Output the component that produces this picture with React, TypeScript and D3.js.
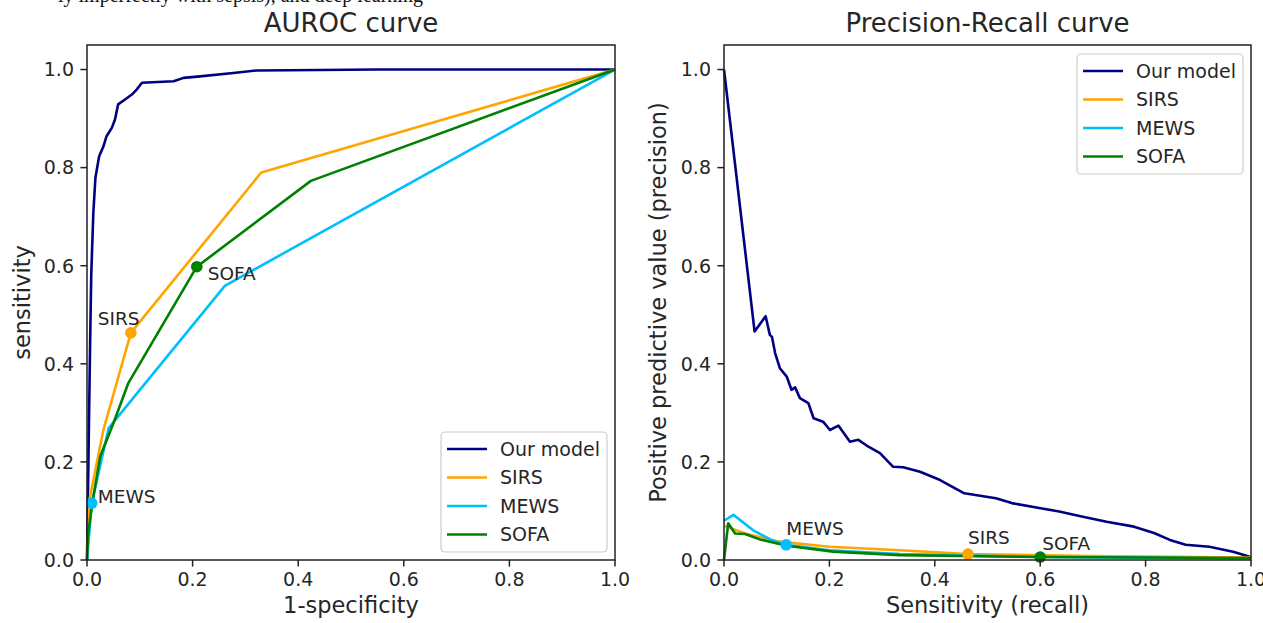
import React from 'react';
import * as d3 from 'd3';

type Pt = [number, number];

// ROC curves (x: 1-specificity, y: sensitivity)
const rocOurModel: Pt[] = [
  [0, 0], [0.002, 0.15], [0.004, 0.3], [0.006, 0.449], [0.008, 0.58], [0.012, 0.708],
  [0.016, 0.78], [0.023, 0.823], [0.031, 0.843], [0.037, 0.864], [0.047, 0.881],
  [0.053, 0.898], [0.059, 0.929], [0.072, 0.939], [0.085, 0.949], [0.094, 0.959],
  [0.104, 0.973], [0.164, 0.976], [0.183, 0.983], [0.214, 0.986], [0.277, 0.993],
  [0.321, 0.998], [0.441, 0.999], [0.55, 1.0], [1, 1],
];
const rocSirs: Pt[] = [[0, 0], [0.005, 0.125], [0.031, 0.265], [0.083, 0.463], [0.33, 0.79], [1, 1]];
const rocMews: Pt[] = [[0, 0], [0.009, 0.116], [0.041, 0.269], [0.261, 0.559], [1, 1]];
const rocSofa: Pt[] = [
  [0, 0], [0.002, 0.05], [0.009, 0.109], [0.025, 0.211], [0.05, 0.279], [0.078, 0.36],
  [0.208, 0.598], [0.424, 0.773], [1, 1],
];

// Precision-recall curves (x: recall, y: precision)
const prOurModel: Pt[] = [
  [0, 1.0], [0.058, 0.466], [0.079, 0.497], [0.087, 0.459], [0.091, 0.455], [0.097, 0.422],
  [0.106, 0.391], [0.119, 0.374], [0.128, 0.347], [0.135, 0.352], [0.144, 0.33], [0.16, 0.32],
  [0.17, 0.289], [0.188, 0.282], [0.201, 0.265], [0.217, 0.274], [0.239, 0.241], [0.255, 0.245],
  [0.274, 0.231], [0.296, 0.218], [0.321, 0.19], [0.34, 0.189], [0.372, 0.18], [0.41, 0.163],
  [0.456, 0.136], [0.516, 0.126], [0.546, 0.116], [0.598, 0.106], [0.636, 0.099], [0.681, 0.088],
  [0.726, 0.078], [0.778, 0.068], [0.816, 0.055], [0.846, 0.041], [0.876, 0.031], [0.921, 0.027],
  [0.966, 0.017], [0.996, 0.007], [1.0, 0.004],
];
const prSirs: Pt[] = [
  [0, 0.07], [0.04, 0.054], [0.1, 0.038], [0.2, 0.027], [0.334, 0.02], [0.463, 0.012],
  [0.7, 0.008], [1, 0.005],
];
const prMews: Pt[] = [
  [0, 0.08], [0.018, 0.092], [0.056, 0.06], [0.09, 0.041], [0.118, 0.031], [0.2, 0.02],
  [0.334, 0.012], [0.6, 0.006], [1, 0.003],
];
const prSofa: Pt[] = [
  [0, 0], [0.008, 0.075], [0.021, 0.054], [0.04, 0.053], [0.068, 0.042], [0.119, 0.029],
  [0.207, 0.017], [0.334, 0.01], [0.6, 0.006], [1, 0.004],
];

const seriesNames = ['Our model', 'SIRS', 'MEWS', 'SOFA'];
const colors = ['navy', 'orange', 'deepskyblue', 'green'];

// operating points (SIRS, MEWS, SOFA)
const rocMarkers: Pt[] = [[0.083, 0.463], [0.009, 0.116], [0.208, 0.598]];
const prMarkers: Pt[] = [[0.463, 0.012], [0.118, 0.031], [0.6, 0.006]];
const rocLabelOffsets: Pt[] = [[-33, -8], [6, 0], [11, 13]];
const prLabelOffsets: Pt[] = [[0, -10], [0, -10], [2, -7]];

const ticks = [0, 0.2, 0.4, 0.6, 0.8, 1.0];

const FONT = 'DejaVu Sans, sans-serif';
const TEXT = '#262626';

type PanelProps = {
  x0: number;
  x1: number;
  title: string;
  xLabel: string;
  yLabel: string;
  yLabelX: number;
  curves: Pt[][];
  markers: Pt[];
  offsets: Pt[];
  legend: 'lower right' | 'upper right';
};

function Panel({ x0, x1, title, xLabel, yLabel, yLabelX, curves, markers, offsets, legend }: PanelProps) {
  const top = 45;
  const bottom = 560;
  const x = d3.scaleLinear().domain([0, 1]).range([x0, x1]);
  const y = d3.scaleLinear().domain([0, 1.05]).range([bottom, top]);
  const line = d3.line<Pt>().x(d => x(d[0])).y(d => y(d[1]));
  const cx = (x0 + x1) / 2;

  const lw = 166;
  const lh = 120;
  const lx = x1 - 8 - lw;
  const ly = legend === 'lower right' ? bottom - 8 - lh : top + 9;

  return (
    <g>
      <text x={cx} y={32} textAnchor="middle" fontSize={26} fill={TEXT} fontFamily={FONT}>
        {title}
      </text>
      {curves.map((c, i) => (
        <path key={i} d={line(c) || ''} fill="none" stroke={colors[i]} strokeWidth={2.6} strokeLinejoin="round" />
      ))}
      {markers.map((m, i) => (
        <g key={i}>
          <circle cx={x(m[0])} cy={y(m[1])} r={5.8} fill={colors[i + 1]} />
          <text
            x={x(m[0]) + offsets[i][0]}
            y={y(m[1]) + offsets[i][1]}
            fontSize={18.5}
            fill={TEXT}
            fontFamily={FONT}
          >
            {seriesNames[i + 1]}
          </text>
        </g>
      ))}
      <rect x={x0} y={top} width={x1 - x0} height={bottom - top} fill="none" stroke="#222" strokeWidth={1.5} />
      {ticks.map(t => (
        <g key={'x' + t}>
          <line x1={x(t)} x2={x(t)} y1={bottom} y2={bottom + 6.6} stroke="#222" strokeWidth={1.5} />
          <text x={x(t)} y={586} textAnchor="middle" fontSize={19} fill={TEXT} fontFamily={FONT}>
            {t.toFixed(1)}
          </text>
        </g>
      ))}
      {ticks.map(t => (
        <g key={'y' + t}>
          <line x1={x0 - 6.6} x2={x0} y1={y(t)} y2={y(t)} stroke="#222" strokeWidth={1.5} />
          <text x={x0 - 13} y={y(t)} dy="0.36em" textAnchor="end" fontSize={19} fill={TEXT} fontFamily={FONT}>
            {t.toFixed(1)}
          </text>
        </g>
      ))}
      <text x={cx} y={613} textAnchor="middle" fontSize={22.5} fill={TEXT} fontFamily={FONT}>
        {xLabel}
      </text>
      <text
        transform={`translate(${yLabelX},${(top + bottom) / 2}) rotate(-90)`}
        textAnchor="middle"
        fontSize={22.5}
        fill={TEXT}
        fontFamily={FONT}
      >
        {yLabel}
      </text>
      <rect x={lx} y={ly} width={lw} height={lh} rx={4} fill="white" fillOpacity={0.8} stroke="#cccccc" strokeWidth={1.2} />
      {seriesNames.map((s, i) => {
        const ry = ly + 17 + i * 28.5;
        return (
          <g key={s}>
            <line x1={lx + 6} x2={lx + 46} y1={ry} y2={ry} stroke={colors[i]} strokeWidth={2.6} />
            <text x={lx + 59} y={ry} dy="0.36em" fontSize={19} fill={TEXT} fontFamily={FONT}>
              {s}
            </text>
          </g>
        );
      })}
    </g>
  );
}

export default function App() {
  return (
    <svg
      width={1263}
      height={623}
      style={{ position: 'absolute', left: 0, top: 0, background: 'white' }}
    >
      <text x={58} y={2} fontSize={20} fontFamily="Liberation Serif, serif" fill="#111">
        ly imperfectly with sepsis), and deep learning
      </text>
      <Panel
        x0={87}
        x1={615}
        title="AUROC curve"
        xLabel="1-specificity"
        yLabel="sensitivity"
        yLabelX={30}
        curves={[rocOurModel, rocSirs, rocMews, rocSofa]}
        markers={rocMarkers}
        offsets={rocLabelOffsets}
        legend="lower right"
      />
      <Panel
        x0={724}
        x1={1251}
        title="Precision-Recall curve"
        xLabel="Sensitivity (recall)"
        yLabel="Positive predictive value (precision)"
        yLabelX={666}
        curves={[prOurModel, prSirs, prMews, prSofa]}
        markers={prMarkers}
        offsets={prLabelOffsets}
        legend="upper right"
      />
    </svg>
  );
}
